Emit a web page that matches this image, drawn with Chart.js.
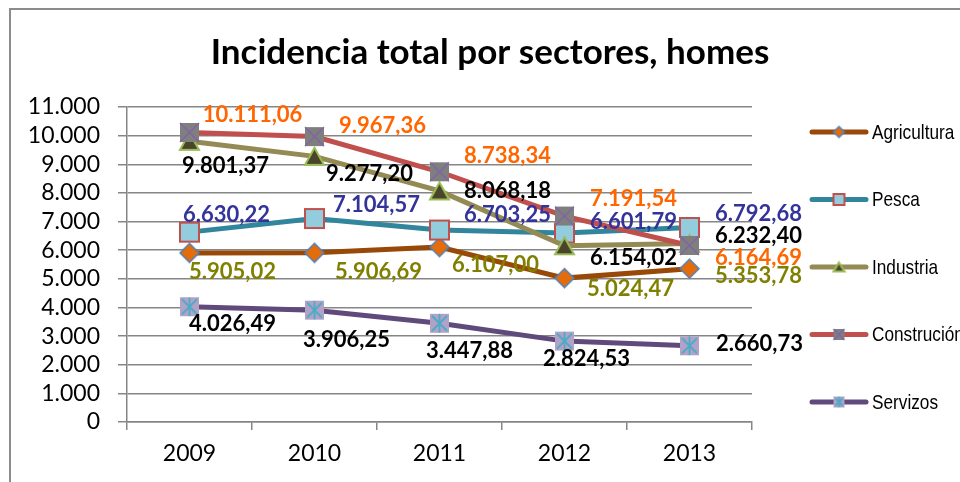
<!DOCTYPE html>
<html>
<head>
<meta charset="utf-8">
<script src="https://cdn.jsdelivr.net/npm/chart.js@4.4.0/dist/chart.umd.min.js"></script>
<style>
  html, body { margin: 0; padding: 0; background: #fff; }
  #wrap { position: relative; width: 960px; height: 482px; overflow: hidden; }
</style>
</head>
<body>
<div id="wrap">
  <canvas id="lineChart"></canvas>
</div>
<script>
// Chart data
const years = ['2009', '2010', '2011', '2012', '2013'];
const agricultura = [5905.02, 5906.69, 6107.00, 5024.47, 5353.78];
const pesca = [6630.22, 7104.57, 6703.25, 6601.79, 6792.68];
const industria = [9801.37, 9277.20, 8068.18, 6154.02, 6232.40];
const construcion = [10111.06, 9967.36, 8738.34, 7191.54, 6164.69];
const servizos = [4026.49, 3906.25, 3447.88, 2824.53, 2660.73];
const yTicks = [0, 1000, 2000, 3000, 4000, 5000, 6000, 7000, 8000, 9000, 10000, 11000];
const chartTitle = 'Incidencia total por sectores, homes';

// label offsets from each point, in pixels [dx, dy]
const labelOffsets = {
  Agricultura: [[43, 19], [64, 19], [56, 18], [66, 11], [69, 7]],
  Pesca: [[37, -17], [62, -14], [68, -15], [69, -11], [69, -14]],
  Industria: [[36, 25], [55, 18], [68, 0], [69, 12], [69, -8]],
  'Construción': [[63, -18], [68, -11], [68, -16], [69, -17], [69, 12]],
  Servizos: [[43, 17], [32, 30], [30, 28], [22, 18], [70, -2]]
};

function fmtThousands(v) {
  return String(v).replace(/\B(?=(\d{3})+(?!\d))/g, '.');
}

function fmtValue(v) {
  const parts = v.toFixed(2).split('.');
  return fmtThousands(parts[0]) + ',' + parts[1];
}

// Excel-like markers drawn on small canvases
function makeMarker(kind, size) {
  const pad = 2;
  const c = document.createElement('canvas');
  c.width = c.height = size + pad * 2;
  const ctx = c.getContext('2d');
  const a = pad, b = pad + size, m = pad + size / 2;
  ctx.lineJoin = 'miter';
  if (kind === 'diamond') {
    ctx.beginPath();
    ctx.moveTo(m, a); ctx.lineTo(b, m); ctx.lineTo(m, b); ctx.lineTo(a, m); ctx.closePath();
    ctx.fillStyle = '#E46C0A'; ctx.fill();
    ctx.strokeStyle = '#4F81BD'; ctx.lineWidth = 1.5; ctx.stroke();
  } else if (kind === 'square') {
    ctx.fillStyle = '#93CDDD'; ctx.fillRect(a, a, size, size);
    ctx.strokeStyle = '#C0504D'; ctx.lineWidth = 2; ctx.strokeRect(a, a, size, size);
  } else if (kind === 'triangle') {
    ctx.beginPath();
    ctx.moveTo(m, a + 1); ctx.lineTo(b, b - 1); ctx.lineTo(a, b - 1); ctx.closePath();
    ctx.fillStyle = '#4A452A'; ctx.fill();
    ctx.strokeStyle = '#9BBB59'; ctx.lineWidth = 2; ctx.stroke();
  } else if (kind === 'xsquare') {
    ctx.fillStyle = '#7F7F7F'; ctx.fillRect(a, a, size, size);
    ctx.strokeStyle = '#8064A2'; ctx.lineWidth = 1.5;
    ctx.beginPath();
    ctx.moveTo(a, a); ctx.lineTo(b, b); ctx.moveTo(b, a); ctx.lineTo(a, b); ctx.stroke();
  } else if (kind === 'starsquare') {
    ctx.fillStyle = '#B3A2C7'; ctx.fillRect(a, a, size, size);
    ctx.strokeStyle = '#4BACC6'; ctx.lineWidth = 1.8;
    ctx.beginPath();
    ctx.moveTo(a + 2, a + 2); ctx.lineTo(b - 2, b - 2);
    ctx.moveTo(b - 2, a + 2); ctx.lineTo(a + 2, b - 2);
    ctx.moveTo(m, a); ctx.lineTo(m, b);
    ctx.stroke();
  }
  return c;
}

const series = [
  { label: 'Agricultura', data: agricultura, color: '#984807', marker: 'diamond', labelColor: '#808000' },
  { label: 'Pesca', data: pesca, color: '#31859C', marker: 'square', labelColor: '#333399' },
  { label: 'Industria', data: industria, color: '#948A54', marker: 'triangle', labelColor: '#000000' },
  { label: 'Construción', data: construcion, color: '#C0504D', marker: 'xsquare', labelColor: '#FF6600' },
  { label: 'Servizos', data: servizos, color: '#604A7B', marker: 'starsquare', labelColor: '#000000' }
];

const datasets = series.map((s, i) => ({
  label: s.label,
  data: s.data,
  borderColor: s.color,
  backgroundColor: s.color,
  borderWidth: 5,
  tension: 0,
  pointStyle: makeMarker(s.marker, 19),
  legendMarker: makeMarker(s.marker, 11),
  labelColor: s.labelColor,
  order: series.length - i
}));

// outer frame + title, Excel style
const frameAndTitle = {
  id: 'frameAndTitle',
  beforeDraw(chart) {
    const ctx = chart.ctx;
    ctx.save();
    ctx.strokeStyle = '#8c8c8c';
    ctx.lineWidth = 2;
    ctx.beginPath();
    ctx.moveTo(10, chart.height);
    ctx.lineTo(10, 9);
    ctx.lineTo(chart.width, 9);
    ctx.stroke();
    ctx.fillStyle = '#000';
    ctx.font = 'bold 35px Lato';
    ctx.textAlign = 'center';
    ctx.textBaseline = 'middle';
    ctx.fillText(chartTitle, 490, 53);
    ctx.restore();
  }
};

// value labels next to each point
const pointLabels = {
  id: 'pointLabels',
  afterDatasetsDraw(chart) {
    const ctx = chart.ctx;
    ctx.save();
    ctx.font = 'bold 22px Lato';
    ctx.textAlign = 'center';
    ctx.textBaseline = 'middle';
    chart.data.datasets.forEach((ds, i) => {
      const meta = chart.getDatasetMeta(i);
      meta.data.forEach((pt, j) => {
        const off = labelOffsets[ds.label][j];
        ctx.fillStyle = ds.labelColor;
        ctx.fillText(fmtValue(ds.data[j]), pt.x + off[0], pt.y + off[1]);
      });
    });
    ctx.restore();
  }
};

// legend on the right: line sample with marker, then name
const sideLegend = {
  id: 'sideLegend',
  afterDraw(chart) {
    const ctx = chart.ctx;
    const x0 = 812, x1 = 866;
    ctx.save();
    chart.data.datasets.forEach((ds, i) => {
      const y = 132 + i * 67.5;
      ctx.strokeStyle = ds.borderColor;
      ctx.lineWidth = 5;
      ctx.lineCap = 'round';
      ctx.beginPath();
      ctx.moveTo(x0, y); ctx.lineTo(x1, y); ctx.stroke();
      const mk = ds.legendMarker;
      ctx.drawImage(mk, (x0 + x1) / 2 - mk.width / 2, y - mk.height / 2);
      // narrow sans, like Arial Narrow
      ctx.save();
      ctx.translate(872, y + 1);
      ctx.scale(0.82, 1);
      ctx.font = '21px "Liberation Sans", Arial';
      ctx.textAlign = 'left';
      ctx.textBaseline = 'middle';
      ctx.fillStyle = '#000';
      ctx.fillText(ds.label, 0, 0);
      ctx.restore();
    });
    ctx.restore();
  }
};

new Chart(document.getElementById('lineChart'), {
  type: 'line',
  data: { labels: years, datasets: datasets },
  options: {
    responsive: true,
    maintainAspectRatio: false,
    animation: false,
    layout: { padding: { left: 20, right: 208, top: 107, bottom: 0 } },
    plugins: {
      legend: { display: false },
      tooltip: { enabled: false },
      title: { display: false }
    },
    scales: {
      x: {
        offset: true,
        grid: { offset: true, drawOnChartArea: false, drawTicks: true, tickLength: 8, color: '#868686', lineWidth: 1.5 },
        border: { color: '#868686', width: 1.5 },
        ticks: { color: '#000', font: { family: 'Lato', size: 23 }, padding: 10 },
        afterFit: scale => { scale.height = 60; }
      },
      y: {
        min: 0,
        max: 11000,
        afterBuildTicks: scale => { scale.ticks = yTicks.map(v => ({ value: v })); },
        grid: { color: '#868686', lineWidth: 1.5, tickLength: 9 },
        border: { color: '#868686', width: 1.5 },
        ticks: { color: '#000', font: { family: 'Lato', size: 23 }, padding: 18, autoSkip: false, callback: v => fmtThousands(v) },
        afterFit: scale => { scale.width = 107; }
      }
    }
  },
  plugins: [frameAndTitle, pointLabels, sideLegend]
});
</script>
</body>
</html>
